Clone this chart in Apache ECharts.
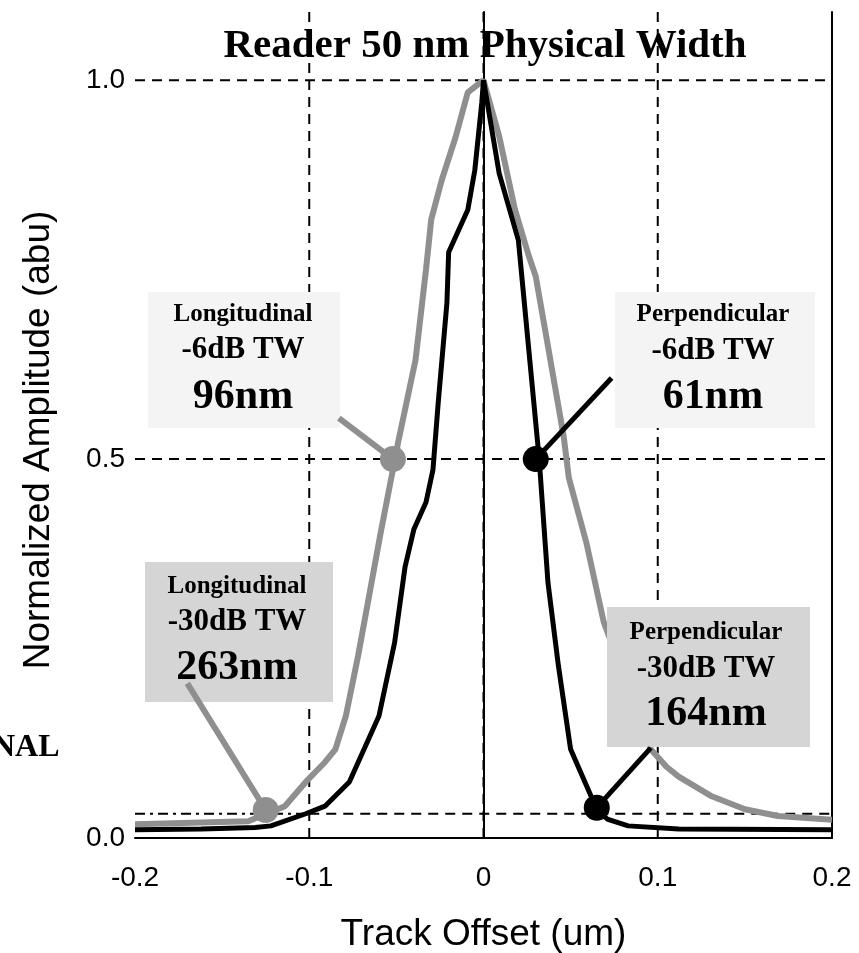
<!DOCTYPE html>
<html>
<head>
<meta charset="utf-8">
<title>Reader 50 nm Physical Width</title>
<script src="https://cdn.jsdelivr.net/npm/echarts@6.0.0/dist/echarts.min.js"></script>
<style>
  html, body { margin: 0; padding: 0; background: #fff; }
  #chart { width: 859px; height: 953px; }
</style>
</head>
<body>
<div id="chart"></div>
<script>
// axis ticks
const xTicks = [-0.2, -0.1, 0, 0.1, 0.2];
const yTicks = [0, 0.5, 1.0];
const xGridLines = [-0.1, 0, 0.1];
const yGridLines = [0.5, 1.0];
const level30dB = 0.032;
const yMax = 1.09;

// Longitudinal track profile (grey)
const longX = [-0.2, -0.135, -0.114, -0.102, -0.091, -0.085, -0.079, -0.072, -0.066, -0.059, -0.052, -0.049, -0.039, -0.033, -0.030, -0.024, -0.016, -0.009, 0,
  0.009, 0.018, 0.026, 0.030, 0.036, 0.041, 0.046, 0.049, 0.059, 0.069, 0.096, 0.105, 0.112, 0.131, 0.150, 0.169, 0.2];
const longY = [0.018, 0.022, 0.042, 0.074, 0.100, 0.117, 0.161, 0.240, 0.315, 0.403, 0.486, 0.522, 0.631, 0.750, 0.816, 0.868, 0.925, 0.984, 1.0,
  0.926, 0.830, 0.768, 0.741, 0.662, 0.596, 0.530, 0.475, 0.390, 0.285, 0.117, 0.094, 0.081, 0.055, 0.038, 0.029, 0.024];

// Perpendicular track profile (black)
const perpX = [-0.2, -0.162, -0.131, -0.122, -0.102, -0.091, -0.077, -0.060, -0.051, -0.045, -0.040, -0.033, -0.029, -0.026, -0.021, -0.020, -0.009, -0.005, -0.001, 0,
  0.009, 0.020, 0.032, 0.037, 0.043, 0.050, 0.065, 0.071, 0.083, 0.112, 0.2];
const perpY = [0.011, 0.012, 0.014, 0.016, 0.032, 0.042, 0.074, 0.161, 0.258, 0.358, 0.407, 0.443, 0.486, 0.574, 0.706, 0.773, 0.829, 0.881, 0.970, 1.0,
  0.877, 0.789, 0.499, 0.337, 0.227, 0.117, 0.038, 0.025, 0.016, 0.012, 0.011];

// track width markers and their leader lines
const longDots = [[-0.052, 0.5], [-0.125, 0.037]];
const perpDots = [[0.030, 0.5], [0.065, 0.040]];
const longLeaders = [
  [[-0.083, 0.554], [-0.052, 0.5]],
  [[-0.170, 0.204], [-0.125, 0.037]]
];
const perpLeaders = [
  [[0.0735, 0.607], [0.030, 0.5]],
  [[0.096, 0.119], [0.065, 0.040]]
];

(function() {
  const chartDom = document.getElementById('chart');
  const chart = echarts.init(chartDom);

  const GREY = '#8f8f8f';
  const SERIF = '"Liberation Serif", "Times New Roman", serif';
  const SANS = '"Liberation Sans", Arial, sans-serif';

  const zip = (xs, ys) => xs.map((x, i) => [x, ys[i]]);

  const segment = (data, color, width, type, z) => ({
    type: 'line',
    data: data,
    symbol: 'none',
    silent: true,
    z: z,
    lineStyle: { color: color, width: width, type: type }
  });

  const gridSeries = []
    .concat(xGridLines.map(x => segment([[x, 0], [x, yMax]], '#000', 2, [10, 7], 1)))
    .concat(yGridLines.map(y => segment([[-0.2, y], [0.2, y]], '#000', 2, [10, 7], 1)))
    .concat([
      segment([[-0.2, level30dB], [-0.1, level30dB]], '#000', 2, [10, 5, 3, 5], 1),
      segment([[-0.1, level30dB], [0.2, level30dB]], '#000', 2, [10, 7], 1)
    ]);

  // annotation boxes: rect [x, y, w, h], text centre x and line centres y
  const notes = [
    { rect: [148, 292, 192, 136], fill: '#f4f4f4', cx: 243, ys: [315, 350, 397], lines: ['Longitudinal', '-6dB TW', '96nm'] },
    { rect: [615, 292, 200, 136], fill: '#f4f4f4', cx: 713, ys: [315, 351, 397], lines: ['Perpendicular', '-6dB TW', '61nm'] },
    { rect: [145, 562, 188, 140], fill: '#d5d5d5', cx: 237, ys: [587, 622, 668], lines: ['Longitudinal', '-30dB TW', '263nm'] },
    { rect: [607, 607, 203, 140], fill: '#d5d5d5', cx: 706, ys: [633, 669, 714], lines: ['Perpendicular', '-30dB TW', '164nm'] }
  ];
  const sizes = [25, 31, 42];

  const graphics = [];
  notes.forEach(n => {
    graphics.push({
      type: 'rect', z: 3, silent: true,
      shape: { x: n.rect[0], y: n.rect[1], width: n.rect[2], height: n.rect[3] },
      style: { fill: n.fill }
    });
    n.lines.forEach((t, i) => {
      graphics.push({
        type: 'text', z: 3, silent: true, x: n.cx, y: n.ys[i],
        style: { text: t, font: 'bold ' + sizes[i] + 'px ' + SERIF, fill: '#000', textAlign: 'center', textVerticalAlign: 'middle' }
      });
    });
  });
  graphics.push({
    type: 'text', z: 3, silent: true, x: 485, y: 46,
    style: { text: 'Reader 50 nm Physical Width', font: 'bold 41px ' + SERIF, fill: '#000', textAlign: 'center', textVerticalAlign: 'middle' }
  });
  graphics.push({
    type: 'text', z: 3, silent: true, x: -8, y: 748,
    style: { text: 'NAL', font: 'bold 32px ' + SERIF, fill: '#000', textAlign: 'left', textVerticalAlign: 'middle' }
  });

  const fmtX = v => (Math.abs(v) < 1e-9 ? '0' : v.toFixed(1));
  const fmtY = v => (yTicks.some(t => Math.abs(t - v) < 1e-9) ? v.toFixed(1) : '');

  const option = {
    animation: false,
    backgroundColor: '#fff',
    grid: { left: 135, right: 27, top: 12, bottom: 115, outerBoundsMode: 'none', containLabel: false },
    xAxis: {
      type: 'value',
      min: xTicks[0],
      max: xTicks[xTicks.length - 1],
      interval: 0.1,
      name: 'Track Offset (um)',
      nameLocation: 'middle',
      nameGap: 78,
      nameTextStyle: { fontFamily: SANS, fontSize: 37, color: '#000' },
      axisLine: { lineStyle: { color: '#000', width: 2 } },
      axisTick: { show: false },
      splitLine: { show: false },
      axisLabel: { formatter: fmtX, fontFamily: SANS, fontSize: 28, color: '#000', margin: 26 }
    },
    yAxis: [{
      type: 'value',
      min: 0,
      max: yMax,
      interval: 0.5,
      name: 'Normalized Amplitude (abu)',
      nameLocation: 'middle',
      nameGap: 78,
      nameTextStyle: { fontFamily: SANS, fontSize: 37, color: '#000', padding: [0, 30, 0, 0] },
      axisLine: { show: true, lineStyle: { color: '#000', width: 2 } },
      axisTick: { show: false },
      splitLine: { show: false },
      axisLabel: { formatter: fmtY, showMaxLabel: false, fontFamily: SANS, fontSize: 28, color: '#000', margin: 10 }
    }, {
      type: 'value',
      position: 'right',
      min: 0,
      max: yMax,
      axisLine: { show: true, lineStyle: { color: '#000', width: 2 } },
      axisTick: { show: false },
      axisLabel: { show: false },
      splitLine: { show: false }
    }],
    graphic: graphics,
    series: gridSeries.concat([
      {
        name: 'Longitudinal',
        type: 'line',
        data: zip(longX, longY),
        showSymbol: false,
        z: 2,
        lineStyle: { color: GREY, width: 6 }
      },
      {
        name: 'Perpendicular',
        type: 'line',
        data: zip(perpX, perpY),
        showSymbol: false,
        z: 2,
        lineStyle: { color: '#000', width: 5 }
      }
    ])
    .concat(longLeaders.map(d => segment(d, GREY, 6, 'solid', 4)))
    .concat(perpLeaders.map(d => segment(d, '#000', 5, 'solid', 4)))
    .concat([
      { type: 'scatter', data: longDots, symbolSize: 26, z: 5, silent: true, itemStyle: { color: GREY, opacity: 1 } },
      { type: 'scatter', data: perpDots, symbolSize: 26, z: 5, silent: true, itemStyle: { color: '#000', opacity: 1 } }
    ])
  };

  chart.setOption(option);
  window.addEventListener('resize', () => chart.resize());
})();
</script>
</body>
</html>
